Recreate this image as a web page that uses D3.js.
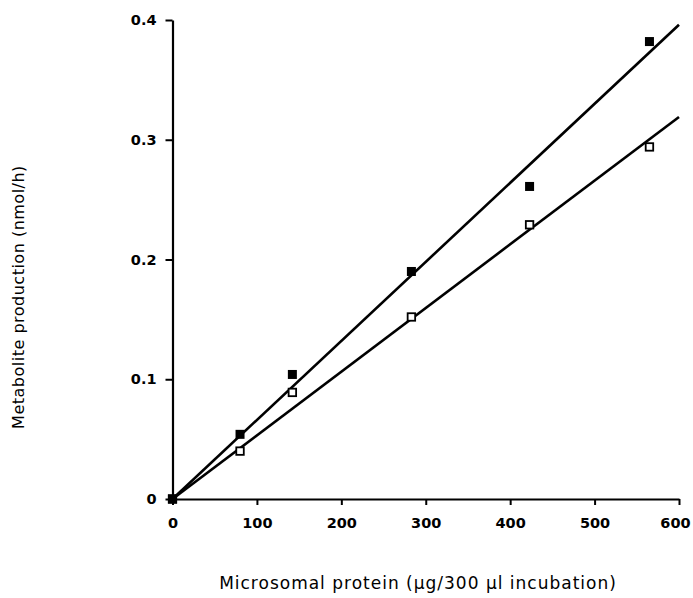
<!DOCTYPE html>
<html><head><meta charset="utf-8">
<script src="https://cdn.jsdelivr.net/npm/d3@7"></script>
<style>body{margin:0;background:#fff}svg{display:block}text{font-family:"DejaVu Sans",sans-serif;fill:#000}</style>
</head><body><svg id="c" width="693" height="598"></svg>
<script>
const protein = [0, 80, 142, 283, 423, 565];
const filledValues = [0, 0.054, 0.104, 0.190, 0.261, 0.382];
const openValues = [0, 0.040, 0.089, 0.152, 0.229, 0.294];
const fitX = [0, 600];
const filledFit = [0, 0.396];
const openFit = [0, 0.319];
const xTicks = [0, 100, 200, 300, 400, 500, 600];
const yTicks = [0, 0.1, 0.2, 0.3, 0.4];
const xTitle = "Microsomal protein (\u00b5g/300 \u00b5l incubation)";
const yTitle = "Metabolite production (nmol/h)";

const svg = d3.select("#c");
const x = d3.scaleLinear().domain([0, 600]).range([172.5, 679]);
const y = d3.scaleLinear().domain([0, 0.4]).range([499, 20]);

const xAxis = svg.append("g").attr("transform", `translate(0,${y(0)})`)
  .call(d3.axisBottom(x).tickValues(xTicks).tickFormat(d3.format("d")).tickSizeInner(6).tickSizeOuter(0).tickPadding(13));
const yAxis = svg.append("g").attr("transform", `translate(${x(0)},0)`)
  .call(d3.axisLeft(y).tickValues(yTicks).tickFormat(d => d === 0 ? "0" : d3.format(".1f")(d)).tickSizeInner(7).tickSizeOuter(0).tickPadding(9));
[xAxis, yAxis].forEach(g => {
  g.select(".domain").attr("stroke", "#000").attr("stroke-width", 2.2);
  g.selectAll(".tick line").attr("stroke", "#000").attr("stroke-width", 2);
  g.selectAll(".tick text").attr("font-size", 14.5).attr("font-weight", "bold")
    .attr("font-family", '"DejaVu Sans",sans-serif').attr("fill", "#000");
});
xAxis.selectAll(".tick text").filter(d => d === 600).attr("dx", -4);

const line = d3.line().x(d => x(d[0])).y(d => y(d[1]));
[filledFit, openFit].forEach(f => {
  svg.append("path").attr("d", line(fitX.map((v, i) => [v, f[i]])))
    .attr("fill", "none").attr("stroke", "#000").attr("stroke-width", 2.6);
});

const s = 9;
svg.append("g").selectAll("rect").data(protein.map((p, i) => [p, openValues[i]])).join("rect")
  .attr("x", d => x(d[0]) - s / 2 + 0.75).attr("y", d => y(d[1]) - s / 2 + 0.75)
  .attr("width", s - 1.5).attr("height", s - 1.5)
  .attr("fill", "#fff").attr("stroke", "#000").attr("stroke-width", 1.8);
svg.append("g").selectAll("rect").data(protein.map((p, i) => [p, filledValues[i]])).join("rect")
  .attr("x", d => x(d[0]) - s / 2).attr("y", d => y(d[1]) - s / 2)
  .attr("width", s).attr("height", s).attr("fill", "#000");

svg.append("text").attr("x", 418).attr("y", 589).attr("text-anchor", "middle")
  .attr("font-size", 17).attr("letter-spacing", 1).text(xTitle);
svg.append("text").attr("transform", "translate(24,297) rotate(-90)").attr("text-anchor", "middle")
  .attr("font-size", 16).attr("letter-spacing", 0.5).text(yTitle);
</script></body></html>
